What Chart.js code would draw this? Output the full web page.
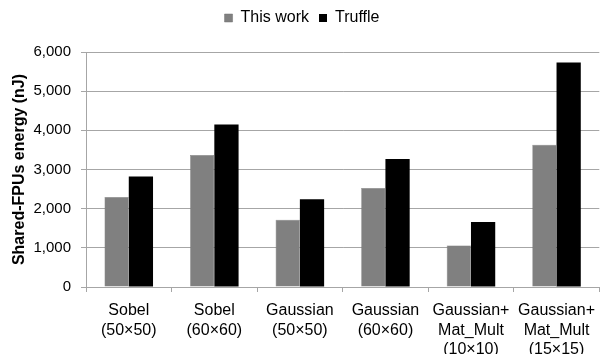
<!DOCTYPE html>
<html lang="en">
<head>
<meta charset="UTF-8">
<title>Shared-FPUs energy</title>
<script src="https://cdn.jsdelivr.net/npm/chart.js"></script>
<style>
  html, body { margin: 0; padding: 0; background: #fff; }
  .wrap { width: 604px; height: 354px; }
</style>
</head>
<body>
<div class="wrap"><canvas id="myChart"></canvas></div>
<script>
  // benchmark names (multi-line labels)
  const categories = [
    ['Sobel', '(50\u00d750)'],
    ['Sobel', '(60\u00d760)'],
    ['Gaussian', '(50\u00d750)'],
    ['Gaussian', '(60\u00d760)'],
    ['Gaussian+', 'Mat_Mult', '(10\u00d710)'],
    ['Gaussian+', 'Mat_Mult', '(15\u00d715)']
  ];
  const thisWork = [2300, 3370, 1720, 2530, 1060, 3630];
  const truffle = [2820, 4150, 2240, 3270, 1660, 5730];
  const yTicks = [0, 1000, 2000, 3000, 4000, 5000, 6000];

  const gridGray = '#a6a6a6';

  // make a bit more room under the legend
  const legendSpace = {
    id: 'legendSpace',
    beforeInit(chart) {
      const fit = chart.legend.fit;
      chart.legend.fit = function () {
        fit.bind(chart.legend)();
        this.height += 16;
      };
    }
  };

  new Chart(document.getElementById('myChart'), {
    type: 'bar',
    data: {
      labels: categories,
      datasets: [
        {
          label: 'This work',
          data: thisWork,
          backgroundColor: '#808080',
          borderColor: '#707070',
          borderWidth: 0.5,
          categoryPercentage: 0.567,
          barPercentage: 1.0
        },
        {
          label: 'Truffle',
          data: truffle,
          backgroundColor: '#000000',
          borderColor: '#000000',
          borderWidth: 0,
          categoryPercentage: 0.567,
          barPercentage: 1.0
        }
      ]
    },
    options: {
      responsive: true,
      maintainAspectRatio: false,
      animation: false,
      layout: { padding: { left: 0, right: 0, top: 0, bottom: 0 } },
      plugins: {
        tooltip: { enabled: false },
        legend: {
          position: 'top',
          labels: {
            boxWidth: 8,
            boxHeight: 8,
            padding: 10,
            color: '#000',
            font: { family: 'Liberation Sans', size: 16 }
          }
        }
      },
      scales: {
        x: {
          grid: {
            offset: true,
            drawOnChartArea: false,
            tickLength: 5,
            color: gridGray
          },
          border: { color: gridGray },
          ticks: {
            color: '#000',
            padding: 9,
            maxRotation: 0,
            autoSkip: false,
            font: { family: 'Liberation Sans', size: 16, lineHeight: 1.22 }
          },
          afterFit: function (scale) { scale.height = 67; }
        },
        y: {
          min: 0,
          max: 6000,
          afterBuildTicks: function (scale) {
            scale.ticks = yTicks.map(v => ({ value: v }));
          },
          grid: { color: gridGray, tickLength: 5 },
          border: { color: gridGray },
          ticks: {
            color: '#000',
            padding: 10,
            font: { family: 'Liberation Sans', size: 15 },
            callback: v => v.toLocaleString('en-US')
          },
          title: {
            display: true,
            text: 'Shared-FPUs energy (nJ)',
            color: '#000',
            padding: { top: 10, bottom: 4 },
            font: { family: 'Liberation Sans', size: 16, weight: 'bold' }
          },
          afterFit: function (scale) { scale.width = 86; }
        }
      }
    },
    plugins: [legendSpace]
  });
</script>
</body>
</html>
